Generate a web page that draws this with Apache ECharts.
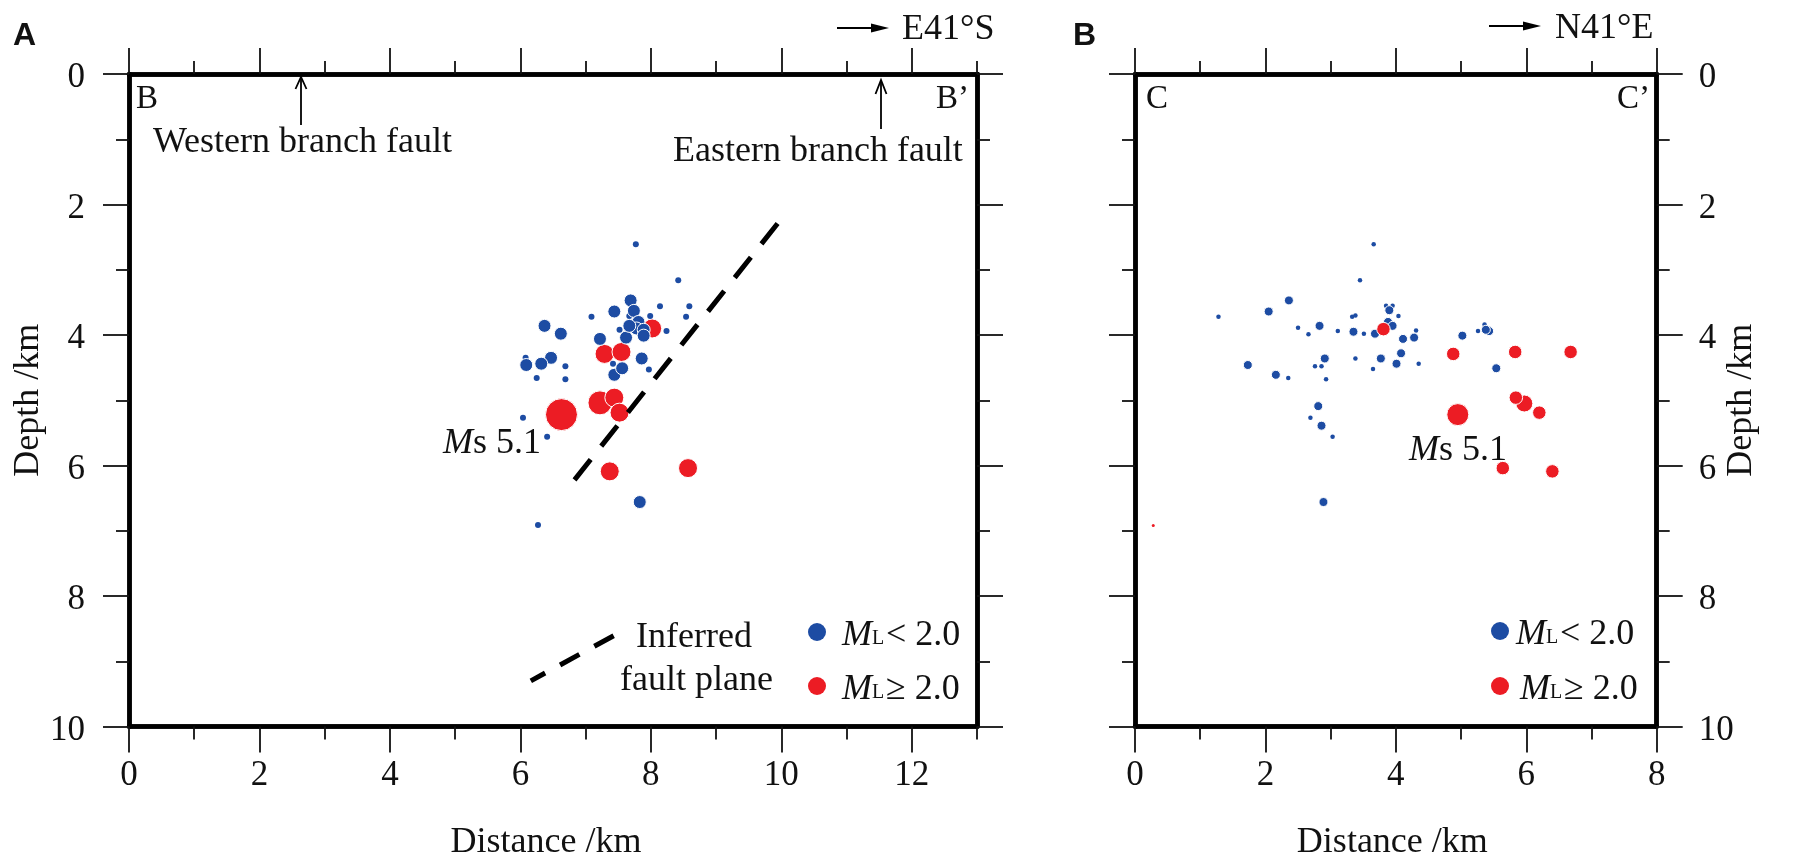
<!DOCTYPE html>
<html>
<head>
<meta charset="utf-8">
<style>
  html, body { margin: 0; padding: 0; background: #fff; }
  #chart { width: 1800px; height: 863px; }
</style>
<script src="https://cdn.jsdelivr.net/npm/echarts@6/dist/echarts.min.js"></script>
</head>
<body>
<div id="chart"></div>
<script>
// tick values, depth is shared by both sections
const depthMajor = [0, 2, 4, 6, 8, 10];
const depthMinor = [1, 3, 5, 7, 9];
const distAMajor = [0, 2, 4, 6, 8, 10, 12];
const distAMinor = [1, 3, 5, 7, 9, 11, 13];
const distBMajor = [0, 2, 4, 6, 8];
const distBMinor = [1, 3, 5, 7];

// section B-B' [distance km, depth km]
const aMainShock = [[6.63, 5.22]];
const aRedLarge = [[7.22, 5.04]];
const aRed = [[7.44, 4.96], [7.52, 5.19], [7.29, 4.29], [7.55, 4.26], [8.02, 3.90], [7.37, 6.09], [8.57, 6.04]];
const aBlue = [
  [7.69, 3.47], [7.44, 3.64], [7.74, 3.63], [7.81, 3.80], [7.78, 3.90], [7.89, 3.92], [7.62, 4.04],
  [7.89, 4.01], [7.67, 3.86], [6.37, 3.86], [6.62, 3.98], [7.22, 4.06], [7.86, 4.36], [6.47, 4.35],
  [6.32, 4.44], [6.09, 4.46], [7.44, 4.61], [7.56, 4.51], [7.83, 6.56],
];
const aBlueSmall = [
  [7.77, 2.61], [8.42, 3.16], [8.14, 3.56], [8.59, 3.56], [8.54, 3.72], [7.99, 3.71], [7.09, 3.72],
  [7.67, 3.71], [7.52, 3.92], [8.24, 3.94], [6.08, 4.35], [6.69, 4.48], [6.25, 4.66], [6.69, 4.68],
  [7.42, 4.44], [7.97, 4.53], [6.04, 5.27], [6.41, 5.56], [6.27, 6.91],
];
const aFaultPlane = [[6.83, 6.22], [10.0, 2.22]];
const aFaultKey = [[7.43, 8.61], [6.16, 9.30]];

// section C-C'
const bMainShock = [[4.95, 5.22]];
const bRedLarge = [[5.97, 5.05]];
const bRed = [[4.88, 4.29], [5.83, 4.26], [6.68, 4.26], [5.84, 4.96], [6.20, 5.19], [5.64, 6.04], [6.40, 6.09], [3.81, 3.91]];
const bRedTiny = [[0.28, 6.92]];
const bBlue = [
  [3.90, 3.62], [3.88, 3.80], [3.95, 3.86], [4.11, 4.06], [4.28, 4.04], [4.08, 4.28], [4.01, 4.44],
  [3.77, 4.36], [5.02, 4.01], [5.43, 3.94], [5.38, 3.92], [5.54, 4.51], [2.36, 3.47], [2.05, 3.64],
  [2.83, 3.86], [3.35, 3.95], [3.68, 3.98], [2.91, 4.36], [1.73, 4.46], [2.16, 4.61], [2.81, 5.09],
  [2.86, 5.39], [2.89, 6.56],
];
const bBlueSmall = [
  [3.85, 3.55], [3.95, 3.55], [4.04, 3.71], [4.31, 3.93], [4.35, 4.44], [5.26, 3.94], [5.36, 3.84],
  [3.66, 2.61], [3.45, 3.16], [3.33, 3.72], [3.38, 3.70], [2.50, 3.89], [2.66, 3.99], [3.11, 3.94],
  [3.51, 3.98], [3.38, 4.36], [2.76, 4.48], [2.86, 4.48], [2.35, 4.66], [2.93, 4.68], [3.65, 4.52],
  [2.69, 5.27], [1.28, 3.72], [3.03, 5.56],
];

const BLUE = '#1d4ca3';
const RED = '#ec1c24';
const INK = '#111';
const SERIF = '"Liberation Serif", "Times New Roman", serif';
const FS = 36;

const chart = echarts.init(document.getElementById('chart'), null, { renderer: 'canvas' });

// every side gets a long tick axis and a short tick axis
const sideAxis = (gridIndex, position, max, values, tickLen, extra) => ({
  type: 'value',
  gridIndex,
  position,
  min: 0,
  max,
  inverse: position === 'left' || position === 'right',
  splitLine: { show: false },
  axisLine: { show: true, onZero: false, lineStyle: { color: '#000', width: 4.5 } },
  axisTick: { show: true, length: tickLen, customValues: values, lineStyle: { color: '#111', width: 1.8 } },
  axisLabel: { show: false },
  ...extra,
});
const labelled = (values, margin) => ({
  axisLabel: { show: true, customValues: values, margin, color: INK, fontFamily: SERIF, fontSize: 35 },
});
// depth numbers sit a little below their ticks in the original
const labelledLow = (values, margin) => ({
  axisLabel: {
    show: true,
    customValues: values,
    margin,
    formatter: '{d|{value}}',
    rich: { d: { color: INK, fontFamily: SERIF, fontSize: 35, padding: [8, 0, 0, 0] } },
  },
});
const named = (name, nameGap, padding) => ({
  name,
  nameLocation: 'middle',
  nameGap,
  nameMoveOverlap: false,
  nameTextStyle: { color: INK, fontFamily: SERIF, fontSize: 36, padding },
});

const xAxes = [];
const yAxes = [];
const addSection = (gridIndex, maxX, major, minor, nameShift, labelSide) => {
  xAxes.push(
    sideAxis(gridIndex, 'bottom', maxX, major, 26, { ...labelled(major, 32), ...named('Distance /km', 98, [0, nameShift, 0, 0]) }),
    sideAxis(gridIndex, 'bottom', maxX, minor, 13),
    sideAxis(gridIndex, 'top', maxX, major, 26),
    sideAxis(gridIndex, 'top', maxX, minor, 13),
  );
  const other = labelSide === 'left' ? 'right' : 'left';
  yAxes.push(
    sideAxis(gridIndex, labelSide, 10, depthMajor, 26, {
      ...labelledLow(depthMajor, labelSide === 'left' ? 44 : 42),
      ...named('Depth /km', labelSide === 'left' ? 82 : 67),
      nameRotate: 90,
    }),
    sideAxis(gridIndex, labelSide, 10, depthMinor, 13),
    sideAxis(gridIndex, other, 10, depthMajor, 26),
    sideAxis(gridIndex, other, 10, depthMinor, 13),
  );
};
addSection(0, 13, distAMajor, distAMinor, 14, 'left');
addSection(1, 8, distBMajor, distBMinor, 7, 'right');

const dots = (name, section, data, color, size, z) => ({
  name,
  type: 'scatter',
  xAxisIndex: section * 4,
  yAxisIndex: section * 4,
  data,
  symbolSize: size,
  z,
  itemStyle: { color, opacity: 1, borderColor: '#fff', borderWidth: size > 6 ? 1 : 0 },
});
const dashed = (name, data, type) => ({
  name,
  type: 'line',
  xAxisIndex: 0,
  yAxisIndex: 0,
  data,
  showSymbol: false,
  z: 8,
  lineStyle: { color: '#000', width: 5, type, cap: 'butt' },
});

// plain text placed on its baseline
const text = (str, x, baseline, size = FS, more = {}) => ({
  type: 'text',
  x,
  y: baseline - size * 0.22,
  z: 20,
  style: {
    text: str,
    fill: more.fill || INK,
    font: `${more.weight || 'normal'} ${more.italic ? 'italic ' : ''}${size}px ${more.family || SERIF}`,
    textAlign: more.align || 'left',
    textVerticalAlign: 'middle',
    verticalAlign: 'middle',
  },
});
const polyline = (points, width = 1.8, fill) => ({
  type: fill ? 'polygon' : 'polyline',
  z: 20,
  shape: { points },
  style: fill ? { fill: '#000' } : { stroke: '#000', lineWidth: width, fill: 'none' },
});
const ms = (x, baseline) => [
  text('M', x, baseline, FS, { italic: true }),
  text('s 5.1', x + 30, baseline),
];
const keyRow = (dotX, color, textX, baseline, sign) => [
  { type: 'circle', z: 20, shape: { cx: dotX, cy: baseline - 11, r: 9 }, style: { fill: color } },
  text('M', textX, baseline, FS, { italic: true }),
  text('L', textX + 30, baseline, 20),
  text(sign, textX + 44, baseline),
];

chart.setOption({
  animation: false,
  backgroundColor: '#fff',
  grid: [
    { left: 129, top: 74, width: 848, height: 652.5, outerBoundsMode: 'none' },
    { left: 1135, top: 74, width: 521.7, height: 652.5, outerBoundsMode: 'none' },
  ],
  xAxis: xAxes,
  yAxis: yAxes,
  series: [
    dots('a ML>=2 main', 0, aMainShock, RED, 32, 3),
    dots('a ML>=2 large', 0, aRedLarge, RED, 24, 3),
    dots('a ML>=2', 0, aRed, RED, 19, 4),
    dots('a ML<2 small', 0, aBlueSmall, BLUE, 6, 5),
    dots('a ML<2', 0, aBlue, BLUE, 13, 6),
    dashed('fault plane', aFaultPlane, [26, 17]),
    dashed('fault key', aFaultKey, [22, 17]),
    dots('b ML<2 small', 1, bBlueSmall, BLUE, 4.5, 3),
    dots('b ML<2', 1, bBlue, BLUE, 9, 4),
    dots('b ML>=2', 1, bRed, RED, 13.5, 5),
    dots('b ML>=2 large', 1, bRedLarge, RED, 17, 4),
    dots('b ML>=2 main', 1, bMainShock, RED, 22, 5),
    dots('b tiny', 1, bRedTiny, RED, 3, 5),
  ],
  graphic: [
    text('A', 13, 43, 32, { weight: 'bold', family: '"Liberation Sans", Arial, sans-serif' }),
    text('B', 1073, 43, 32, { weight: 'bold', family: '"Liberation Sans", Arial, sans-serif' }),
    polyline([[837, 28], [873, 28]]),
    polyline([[871, 23.5], [889, 28], [871, 32.5]], 0, true),
    text('E41°S', 902, 37),
    polyline([[1489, 26], [1525, 26]]),
    polyline([[1523, 21.5], [1541, 26], [1523, 30.5]], 0, true),
    text('N41°E', 1555, 36),
    text('B', 136, 107, 33),
    text('B’', 969, 107, 33, { align: 'right' }),
    text('C', 1146, 107, 33),
    text('C’', 1650, 107, 33, { align: 'right' }),
    polyline([[301, 125], [301, 78]]),
    polyline([[295.5, 89], [301, 77], [306.5, 89]]),
    polyline([[881, 129], [881, 81]]),
    polyline([[875.5, 94], [881, 80], [886.5, 94]]),
    text('Western branch fault', 153, 150),
    text('Eastern branch fault', 673, 159),
    text('Inferred', 636, 645),
    text('fault plane', 620, 688),
    ...ms(443, 451),
    ...ms(1409, 458),
    ...keyRow(817, BLUE, 842, 643, '< 2.0'),
    ...keyRow(817, RED, 842, 697, '≥ 2.0'),
    ...keyRow(1500, BLUE, 1516, 642, '< 2.0'),
    ...keyRow(1500, RED, 1520, 697, '≥ 2.0'),
  ],
});
</script>
</body>
</html>
